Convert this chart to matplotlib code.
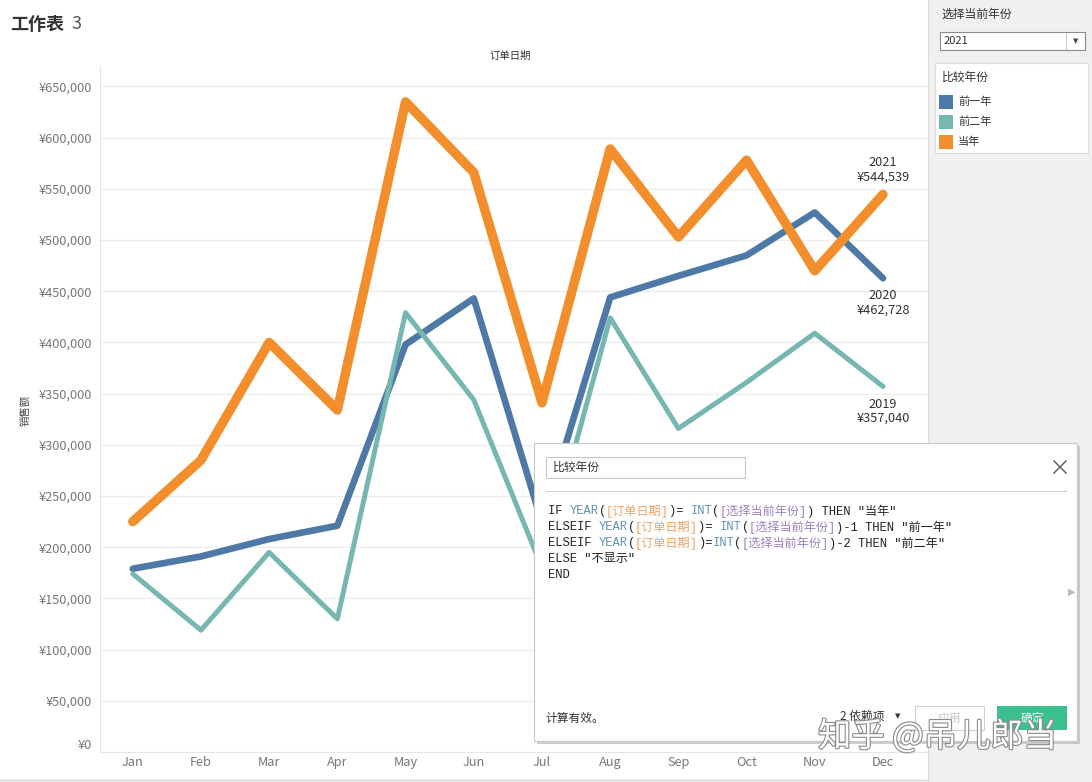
import numpy as np
import matplotlib.pyplot as plt
from matplotlib.patches import Rectangle
import matplotlib.patheffects as pe

plt.rcParams['font.family'] = ['Noto Sans CJK SC', 'DejaVu Sans']

# 数据
months = ['Jan', 'Feb', 'Mar', 'Apr', 'May', 'Jun', 'Jul', 'Aug', 'Sep', 'Oct', 'Nov', 'Dec']
sales_prev1 = [179000, 191000, 208000, 221000, 398000, 443000, 224000, 444000, 465000, 485000, 527000, 462728]
sales_prev2 = [174000, 119000, 195000, 130000, 429000, 344000, 180000, 424000, 316000, 361000, 409000, 357040]
sales_cur = [225000, 285000, 400000, 334000, 635000, 566000, 341000, 589000, 503000, 578000, 470000, 544539]
series_names = ['前一年', '前二年', '当年']
series_years = ['2020', '2019', '2021']
yticks = np.arange(0, 650001, 50000)

colors = ['#4e79a7', '#76b7b2', '#f28e2b']
widths = [4.8, 3.6, 6.8]

W, H = 1092, 782
fig = plt.figure(figsize=(W / 100, H / 100), dpi=100)
fig.patch.set_facecolor('white')


def fx(px):
    return px / W


def fy(py):
    return 1 - py / H


# ---- main chart ----
ax = fig.add_axes([fx(100), fy(752), fx(928) - fx(100), fy(66) - fy(752)])
x = np.arange(len(months))
all_series = [sales_prev1, sales_prev2, sales_cur]
for vals, c, lw in zip(all_series, colors, widths):
    ax.plot(x, vals, color=c, lw=lw, solid_capstyle='round', solid_joinstyle='round')

ax.set_xlim(-0.48, 11.66)
ax.set_ylim(0, 670000)
ax.set_yticks(yticks)
ax.set_yticklabels(['¥{:,}'.format(v) for v in yticks])
ax.set_xticks(x)
ax.set_xticklabels(months)
ax.tick_params(length=0, labelsize=9.2, labelcolor='#777777')
ax.tick_params(axis='y', pad=6)
ax.tick_params(axis='x', pad=3)
ax.get_yticklabels()[0].set_verticalalignment('bottom')
ax.grid(axis='y', color='#ececec', lw=0.8)
ax.set_axisbelow(True)
for s in ['top', 'right']:
    ax.spines[s].set_visible(False)
for s in ['left', 'bottom']:
    ax.spines[s].set_color('#e6e6e6')
    ax.spines[s].set_linewidth(0.8)

# end labels
offsets = [(0, -8, 'top'), (0, -8, 'top'), (0, 8, 'bottom')]
for vals, yr, (dx, dy, va) in zip(all_series, series_years, offsets):
    ax.annotate('{}\n¥{:,}'.format(yr, vals[-1]), (x[-1], vals[-1]), xytext=(dx, dy),
                textcoords='offset points', ha='center', va=va, fontsize=9.2,
                color='#333333', linespacing=1.15)

# ---- overlay in pixel coords ----
ov = fig.add_axes([0, 0, 1, 1], zorder=10)
ov.set_xlim(0, W)
ov.set_ylim(H, 0)
ov.axis('off')

ov.text(10, 24, '工作表', fontsize=13, weight='bold', color='#333333', va='center')
ov.text(71, 24, '3', fontsize=13, color='#555555', va='center')
ov.text(510, 56, '订单日期', fontsize=7.5, color='#333333', ha='center', va='center')
ov.text(25, 410, '销售额', fontsize=7.5, color='#444444', ha='center', va='center', rotation=90)
ov.plot([0, 928], [780, 780], color='#d4d4d4', lw=1, zorder=1)

# right panel
ov.add_patch(Rectangle((928, 0), 164, 782, fc='#f0f0f0', ec='none', zorder=1))
ov.plot([928, 928], [0, 782], color='#dadada', lw=0.8, zorder=1.5)
ov.text(941, 14, '选择当前年份', fontsize=8.5, color='#333333', va='center')
ov.add_patch(Rectangle((940, 32), 145, 18, fc='white', ec='#8c8c8c', lw=0.8, zorder=2))
ov.text(944, 41.5, '2021', fontsize=8, color='#333333', va='center')
ov.plot([1066, 1066], [33, 49], color='#cccccc', lw=0.8, zorder=2.5)
ov.text(1076, 41, '▼', fontsize=5, color='#444444', ha='center', va='center',
        family=['DejaVu Sans'])

ov.add_patch(Rectangle((935, 63), 153, 90, fc='white', ec='#dcdcdc', lw=0.8, zorder=2))
ov.text(942, 77, '比较年份', fontsize=8.5, color='#333333', va='center')
for i, (name, c) in enumerate(zip(series_names, colors)):
    yy = 102 + 20 * i
    ov.add_patch(Rectangle((939, yy - 7), 14, 14, fc=c, ec='none', zorder=2.5))
    ov.text(958, yy, name, fontsize=8, color='#333333', va='center')

# calculation dialog
DZ = 5
ov.add_patch(Rectangle((537, 446), 543, 298, fc='#b8b8b8', ec='none', alpha=0.7, zorder=DZ))
ov.add_patch(Rectangle((534, 443), 543, 298, fc='white', ec='#c8c8c8', lw=0.8, zorder=DZ))
ov.add_patch(Rectangle((546, 457), 199, 21, fc='white', ec='#c6c6c6', lw=0.8, zorder=DZ + 1))
ov.text(553, 467.5, '比较年份', fontsize=8.5, color='#333333', va='center', zorder=DZ + 2)
ov.plot([1054, 1066], [461, 473], color='#555555', lw=1, zorder=DZ + 1)
ov.plot([1054, 1066], [473, 461], color='#555555', lw=1, zorder=DZ + 1)
ov.plot([546, 1066], [491, 491], color='#d0d0d0', lw=0.8, zorder=DZ + 1)

k, f, o, p = '#222222', '#5f93b5', '#f0a263', '#9c80c4'
code_lines = [
    [('IF ', k), ('YEAR', f), ('(', k), ('[订单日期]', o), (')= ', k), ('INT', f), ('(', k),
     ('[选择当前年份]', p), (') THEN "当年"', k)],
    [('ELSEIF ', k), ('YEAR', f), ('(', k), ('[订单日期]', o), (')= ', k), ('INT', f), ('(', k),
     ('[选择当前年份]', p), (')-1 THEN "前一年"', k)],
    [('ELSEIF ', k), ('YEAR', f), ('(', k), ('[订单日期]', o), (')=', k), ('INT', f), ('(', k),
     ('[选择当前年份]', p), (')-2 THEN "前二年"', k)],
    [('ELSE "不显示"', k)],
    [('END', k)],
]
renderer = fig.canvas.get_renderer()
for i, segs in enumerate(code_lines):
    xx = 548
    for txt, c in segs:
        t = ov.text(xx, 511 + 16 * i, txt, fontsize=8.7, color=c, va='center',
                    family=['Liberation Mono', 'Noto Sans CJK SC'], zorder=DZ + 2)
        xx = t.get_window_extent(renderer).x1

ov.text(1072, 592, '▶', fontsize=7, color='#bbbbbb', ha='center', va='center',
        family=['DejaVu Sans'], zorder=DZ + 2)
ov.text(546, 718, '计算有效。', fontsize=8.5, color='#333333', va='center', zorder=DZ + 2)
ov.text(840, 716, '2 依赖项', fontsize=8.5, color='#333333', va='center', zorder=DZ + 2)
ov.text(895, 716, '▼', fontsize=5, color='#333333', va='center', family=['DejaVu Sans'],
        zorder=DZ + 2)
ov.add_patch(Rectangle((915, 706), 69, 24, fc='white', ec='#d0d0d0', lw=0.8, zorder=DZ + 1))
ov.text(949.5, 718, '应用', fontsize=8.5, color='#c8c8c8', ha='center', va='center', zorder=DZ + 2)
ov.add_patch(Rectangle((997, 706), 70, 24, fc='#3cc08f', ec='none', zorder=DZ + 1))
ov.text(1032, 718, '确定', fontsize=8.5, color='white', ha='center', va='center', zorder=DZ + 2)

# watermark (overlaps the buttons, as in the screenshot)
ov.text(818, 737, '知乎 @吊儿郎当', fontsize=24, color='white', va='center', zorder=DZ + 3,
        path_effects=[pe.withStroke(linewidth=1.6, foreground='#8a8a8a')])

fig.savefig('out.png', dpi=100)
